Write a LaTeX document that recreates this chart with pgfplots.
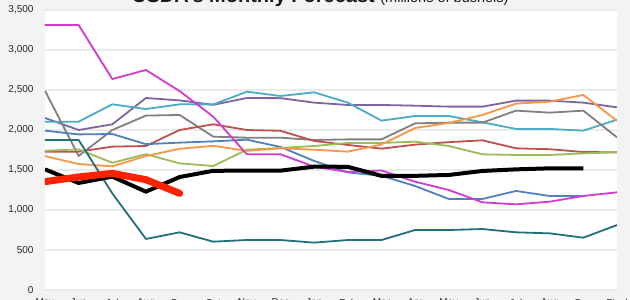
\documentclass[border=0pt]{standalone}
\usepackage{fontspec}
\setmainfont{Liberation Sans}
\usepackage{pgfplots}
\pgfplotsset{compat=1.18}
\definecolor{bgc}{HTML}{F3F3F3}
\definecolor{gridc}{HTML}{EAEAEA}
\definecolor{cpurple}{HTML}{8064A2}
\definecolor{ccyan}{HTML}{4BACC6}
\definecolor{cgray}{HTML}{808080}
\definecolor{cred}{HTML}{C0504D}
\definecolor{cblue}{HTML}{4F81BD}
\definecolor{cgreen}{HTML}{9BBB59}
\definecolor{corange}{HTML}{F79646}
\definecolor{cpink}{HTML}{D23AD2}
\definecolor{cteal}{HTML}{22707C}
\definecolor{cbright}{HTML}{FF2200}
\begin{document}
\begin{tikzpicture}
\path[use as bounding box, fill=bgc] (-45pt,-10pt) rectangle (585pt,290pt);
\begin{scope}
\clip (-45pt,-10pt) rectangle (585pt,290pt);
\begin{axis}[overlay, at={(0pt,0pt)}, anchor=south west, scale only axis,
  width=572pt, height=280pt,
  xmin=0, xmax=17, ymin=0, ymax=3500,
  ytick={0,500,...,3500},
  xtick={0,...,17},
  xticklabels={May,Jun,Jul,Aug,Sep,Oct,Nov,Dec,Jan,Feb,Mar,Apr,May,Jun,Jul,Aug,Sep,Final},
  axis line style={draw=none}, major tick length=0pt,
  ymajorgrids, grid style={gridc, line width=1.5pt},
  axis background/.style={fill=white},
  /pgf/number format/assume math mode=true,
  /pgf/number format/1000 sep={,},
  tick label style={font=\fontsize{10}{12}\selectfont, text=black!85},
  yticklabel style={xshift=-8pt},
  xticklabel style={yshift=-5.5pt},
  every axis plot/.append style={line width=1.8pt, line join=round, mark=none},
]
\addplot[cpurple] coordinates {(0,2150)(1,2000)(2,2071)(3,2400)(4,2370)(5,2315)(6,2400)(7,2398)(8,2342)(9,2313)(10,2313)(11,2304)(12,2292)(13,2292)(14,2367)(15,2367)(16,2342)(17,2283)};
\addplot[ccyan] coordinates {(0,2104)(1,2104)(2,2321)(3,2262)(4,2321)(5,2320)(6,2479)(7,2425)(8,2471)(9,2342)(10,2117)(11,2175)(12,2175)(13,2096)(14,2013)(15,2013)(16,1992)(17,2129)};
\addplot[cgray] coordinates {(0,2490)(1,1675)(2,2000)(3,2180)(4,2188)(5,1917)(6,1904)(7,1904)(8,1875)(9,1883)(10,1883)(11,2083)(12,2092)(13,2092)(14,2242)(15,2217)(16,2242)(17,1908)};
\addplot[cred] coordinates {(0,1729)(1,1729)(2,1792)(3,1800)(4,2000)(5,2071)(6,2000)(7,1990)(8,1863)(9,1813)(10,1767)(11,1817)(12,1848)(13,1871)(14,1771)(15,1760)(16,1725)(17,1721)};
\addplot[cblue] coordinates {(0,1992)(1,1945)(2,1950)(3,1823)(4,1842)(5,1858)(6,1879)(7,1788)(8,1613)(9,1470)(10,1427)(11,1300)(12,1138)(13,1138)(14,1238)(15,1175)(16,1175)};
\addplot[cgreen] coordinates {(0,1740)(1,1758)(2,1590)(3,1698)(4,1583)(5,1550)(6,1754)(7,1775)(8,1800)(9,1838)(10,1838)(11,1854)(12,1800)(13,1696)(14,1688)(15,1688)(16,1708)(17,1721)};
\addplot[corange] coordinates {(0,1673)(1,1575)(2,1546)(3,1675)(4,1765)(5,1802)(6,1740)(7,1771)(8,1754)(9,1729)(10,1819)(11,2025)(12,2088)(13,2188)(14,2330)(15,2354)(16,2438)(17,2115)};
\addplot[cpink] coordinates {(0,3312)(1,3312)(2,2637)(3,2750)(4,2487)(5,2167)(6,1696)(7,1696)(8,1542)(9,1475)(10,1494)(11,1354)(12,1250)(13,1096)(14,1071)(15,1104)(16,1175)(17,1221)};
\addplot[cteal] coordinates {(0,1875)(1,1875)(2,1208)(3,638)(4,721)(5,604)(6,625)(7,625)(8,592)(9,625)(10,625)(11,750)(12,750)(13,762)(14,721)(15,708)(16,654)(17,812)};
\addplot[black, line width=4pt] coordinates {(0,1508)(1,1338)(2,1417)(3,1229)(4,1412)(5,1490)(6,1492)(7,1492)(8,1542)(9,1540)(10,1427)(11,1427)(12,1438)(13,1488)(14,1508)(15,1521)(16,1521)};
\addplot[cbright, line width=7pt, line cap=round] coordinates {(0,1354)(1,1413)(2,1458)(3,1379)(4,1208)};
\end{axis}
\node[overlay, anchor=base west, inner sep=0pt, text=black!90] at (87pt,287pt)
  {\fontsize{20}{24}\selectfont\bfseries USDA's Monthly Forecast \fontsize{14.5}{16}\selectfont\mdseries(millions of bushels)};
\end{scope}
\end{tikzpicture}
\end{document}
